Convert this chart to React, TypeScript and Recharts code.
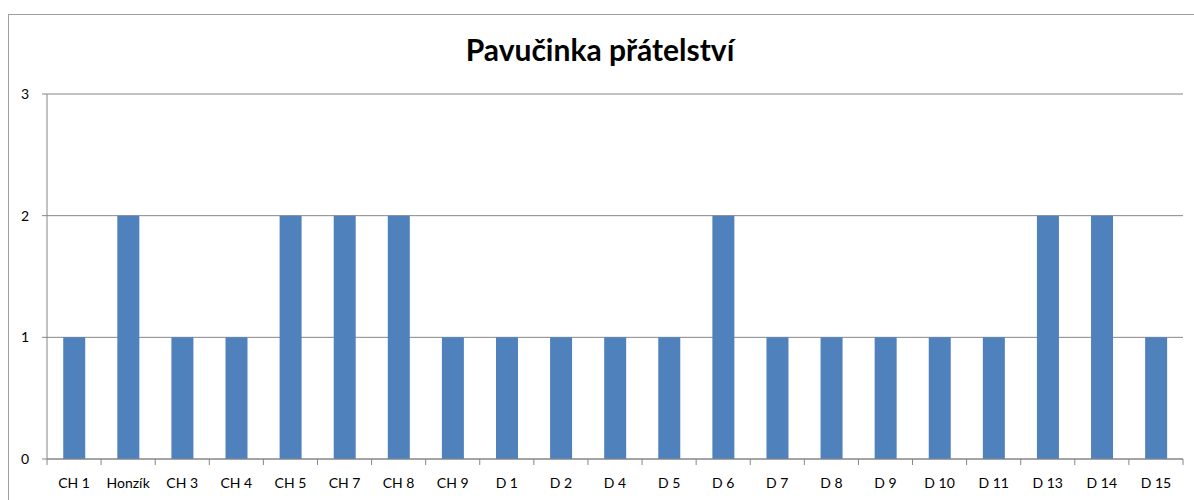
import React from 'react';
import { BarChart, Bar, XAxis, YAxis, CartesianGrid } from 'recharts';

const categories = ['CH 1', 'Honzík', 'CH 3', 'CH 4', 'CH 5', 'CH 7', 'CH 8', 'CH 9', 'D 1', 'D 2', 'D 4', 'D 5', 'D 6', 'D 7', 'D 8', 'D 9', 'D 10', 'D 11', 'D 13', 'D 14', 'D 15'];
const values = [1, 2, 1, 1, 2, 2, 2, 1, 1, 1, 1, 1, 2, 1, 1, 1, 1, 1, 2, 2, 1];
const yTicks = [0, 1, 2, 3];
const title = 'Pavučinka přátelství';

const data = categories.map((c, i) => ({ name: c, value: values[i] }));

const FONT = 'Lato, "Open Sans", sans-serif';

const XTick = (props: any) => {
  const { x, y, payload, index, visibleTicksCount } = props;
  const off = payload && typeof payload.offset === 'number' ? payload.offset : 0;
  const last = index === (visibleTicksCount ?? categories.length) - 1;
  return (
    <g>
      <line x1={x - off} x2={x - off} y1={y - 8} y2={y - 2} stroke="#868686" />
      {last && <line x1={x + off} x2={x + off} y1={y - 8} y2={y - 2} stroke="#868686" />}
      <text x={x} y={y + 21} textAnchor="middle" fontSize={14} fill="#000" fontFamily={FONT}>
        {payload.value}
      </text>
    </g>
  );
};

export default function App() {
  return (
    <div style={{ position: 'absolute', left: 0, top: 0, width: 1194, height: 500, overflow: 'hidden', background: '#fff' }}>
      <div style={{ position: 'absolute', left: 8, top: 14, width: 1200, height: 520, border: '1px solid #a0a0a0' }} />
      <div style={{ position: 'absolute', left: 0, top: 31, width: 1200, textAlign: 'center', fontFamily: FONT, fontWeight: 700, fontSize: 30, lineHeight: '36px', color: '#000' }}>
        {title}
      </div>
      <div style={{ position: 'absolute', left: 0, top: 0 }}>
        <BarChart width={1194} height={500} data={data} margin={{ top: 94, right: 11, bottom: 0, left: 0 }} barCategoryGap="30%">
          <CartesianGrid horizontal vertical={false} stroke="#868686" />
          <XAxis dataKey="name" height={41} tickLine={false} tick={<XTick />} stroke="#868686" interval={0} />
          <YAxis width={47} domain={[0, 3]} ticks={yTicks} tickSize={5} tickMargin={13} stroke="#868686" tick={{ fill: '#000', fontSize: 14, fontFamily: FONT }} />
          <Bar dataKey="value" fill="#4F81BD" isAnimationActive={false} />
        </BarChart>
      </div>
    </div>
  );
}
